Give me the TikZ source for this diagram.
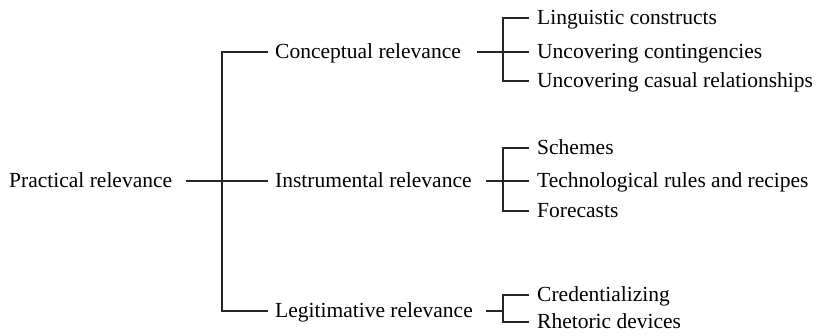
\documentclass[tikz,border=0pt]{standalone}
\usepackage{fontspec}
\setmainfont{Liberation Serif}
\begin{document}
\begin{tikzpicture}[x=1pt,y=-1pt,
  lbl/.style={anchor=west, inner sep=0pt, text height=14pt, text depth=0pt,
    font=\fontsize{21.5}{26}\selectfont, text=black},
  conn/.style={draw=black!85, line width=1.2pt}]
\useasboundingbox (0,0) rectangle (817,336);
% level 0
\node[lbl] (P) at (9,181) {Practical relevance};
% level 1
\node[lbl] (C) at (275,52) {Conceptual relevance};
\node[lbl] (I) at (275,181) {Instrumental relevance};
\node[lbl] (L) at (275,311) {Legitimative relevance};
% level 2
\node[lbl] (C1) at (537,18) {Linguistic constructs};
\node[lbl] (C2) at (537,52) {Uncovering contingencies};
\node[lbl] (C3) at (537,81) {Uncovering casual relationships};
\node[lbl] (I1) at (537,148) {Schemes};
\node[lbl] (I2) at (537,181) {Technological rules and recipes};
\node[lbl] (I3) at (537,211) {Forecasts};
\node[lbl] (L1) at (537,295) {Credentializing};
\node[lbl] (L2) at (537,322) {Rhetoric devices};
% junctions
\coordinate (j0) at (222,181);
\coordinate (jc) at (503,52);
\coordinate (ji) at (503,181);
\coordinate (jl) at (503,311);
% level 0 -> 1
\draw[conn] ([xshift=14pt]P.east) -- ([xshift=-7pt]I.west);
\draw[conn] ([xshift=-7pt]C.west) -- (C.west -| j0) -- (L.west -| j0) -- ([xshift=-7pt]L.west);
% conceptual
\draw[conn] ([xshift=16pt]C.east) -- ([xshift=-8pt]C2.west);
\draw[conn] ([xshift=-8pt]C1.west) -- (C1.west -| jc) -- (C3.west -| jc) -- ([xshift=-8pt]C3.west);
% instrumental
\draw[conn] ([xshift=14pt]I.east) -- ([xshift=-8pt]I2.west);
\draw[conn] ([xshift=-8pt]I1.west) -- (I1.west -| ji) -- (I3.west -| ji) -- ([xshift=-8pt]I3.west);
% legitimative
\draw[conn] ([xshift=13pt]L.east) -- (jl);
\draw[conn] ([xshift=-8pt]L1.west) -- (L1.west -| jl) -- (L2.west -| jl) -- ([xshift=-8pt]L2.west);
\end{tikzpicture}
\end{document}
